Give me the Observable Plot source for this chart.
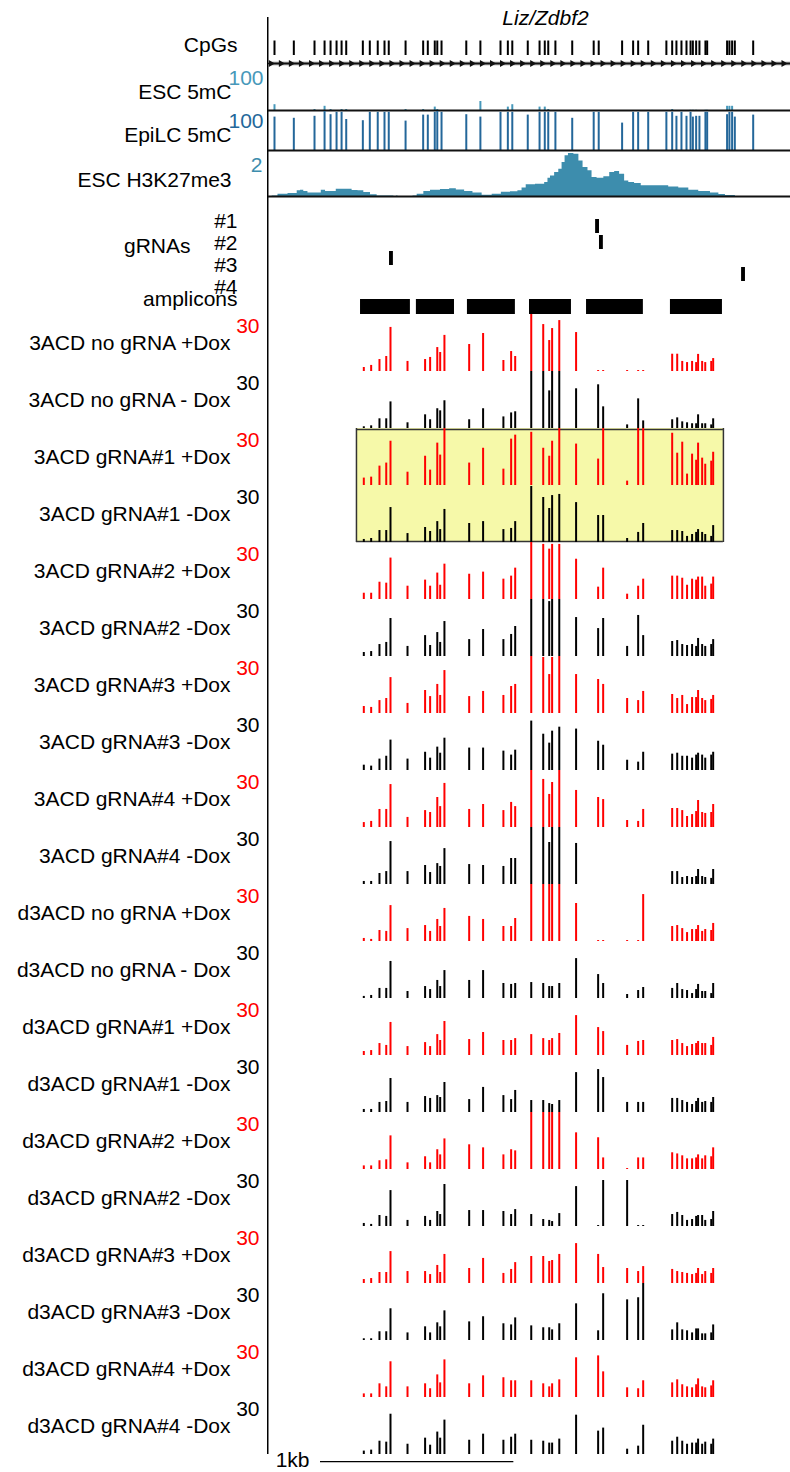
<!DOCTYPE html>
<html><head><meta charset="utf-8">
<script src="https://cdn.jsdelivr.net/npm/d3@7"></script>
<script src="https://cdn.jsdelivr.net/npm/@observablehq/plot@0.6"></script>
<style>
body{margin:0;background:#fff;}
#chart{width:790px;line-height:0;}
#chart svg{display:block;}
</style></head><body><div id="chart"></div>
<script>
// ---------------- data ----------------
const geneName = "Liz/Zdbf2";
// CpG positions (bp from left edge of the window)
const cpgSites = [31,131,238,290,321,352,378,402,488,524,565,600,622,709,800,824,860,873,895,1023,1096,1200,1238,1261,1341,1402,1429,1447,1484,1571,1682,1708,1829,1886,1912,1964,2058,2088,2110,2136,2162,2183,2195,2212,2229,2260,2269,2372,2384,2398,2412,2507];
const esc5mC = [17,0,5,13,5,0,5,5,0,0,0,0,0,5,5,0,11,5,0,0,25,0,11,17,0,11,11,5,0,0,0,0,0,0,0,0,0,5,0,0,0,3,3,3,0,3,3,13,13,13,0,0];
const epilc5mC = [86,83,88,100,92,98,98,80,77,98,98,98,98,76,91,91,98,100,98,92,86,98,98,98,91,98,98,98,98,83,98,98,71,98,98,98,98,98,88,98,88,98,86,88,88,98,98,92,98,98,86,91];
// ESC H3K27me3 profile
const h3k27Pos = [2,36,62,140,157,174,191,217,260,286,304,329,372,415,450,476,510,545,579,640,657,666,674,743,752,786,821,855,924,950,993,1036,1079,1131,1183,1226,1277,1303,1320,1346,1416,1441,1450,1467,1493,1510,1527,1541,1562,1597,1614,1640,1665,1682,1717,1752,1778,1803,1829,1855,1872,1915,1941,2044,2096,2148,2200,2251,2321,2338,2389,2441,2528];
const h3k27Val = [0,0.07,0.14,0.17,0.29,0.32,0.26,0.2,0.2,0.32,0.26,0.26,0.36,0.36,0.3,0.29,0.22,0.12,0.07,0.07,0.01,0.07,0,0,0.06,0.14,0.26,0.32,0.35,0.38,0.33,0.26,0.2,0.1,0.14,0.23,0.25,0.29,0.41,0.55,0.58,0.65,0.84,0.94,1.09,1.23,1.52,1.81,1.91,1.88,1.59,1.3,1.16,0.87,0.84,0.9,1.09,1.13,1.01,0.72,0.65,0.61,0.51,0.51,0.46,0.41,0.32,0.26,0.2,0.13,0.09,0.03,0];
// gRNAs
const gRNAs = ["#1","#2","#3","#4"];
const gRNAPos = [1702,1722,636,2457];
// amplicons
const ampliconStart = [476,765,1029,1350,1645,2079];
const ampliconEnd = [734,962,1277,1567,1939,2348];
// CpGs covered by amplicon bisulfite sequencing
const ampliconCpGs = [493,531,574,609,631,719,810,836,873,888,910,1038,1110,1215,1255,1276,1359,1421,1452,1467,1504,1591,1705,1731,1855,1912,1938,2088,2114,2140,2165,2191,2212,2222,2243,2259,2290,2300];
const samples = ["3ACD no gRNA +Dox","3ACD no gRNA - Dox","3ACD gRNA#1 +Dox","3ACD gRNA#1 -Dox","3ACD gRNA#2 +Dox","3ACD gRNA#2 -Dox","3ACD gRNA#3 +Dox","3ACD gRNA#3 -Dox","3ACD gRNA#4 +Dox","3ACD gRNA#4 -Dox","d3ACD no gRNA +Dox","d3ACD no gRNA - Dox","d3ACD gRNA#1 +Dox","d3ACD gRNA#1 -Dox","d3ACD gRNA#2 +Dox","d3ACD gRNA#2 -Dox","d3ACD gRNA#3 +Dox","d3ACD gRNA#3 -Dox","d3ACD gRNA#4 +Dox","d3ACD gRNA#4 -Dox"];
const treatment = ["+Dox","-Dox","+Dox","-Dox","+Dox","-Dox","+Dox","-Dox","+Dox","-Dox","+Dox","-Dox","+Dox","-Dox","+Dox","-Dox","+Dox","-Dox","+Dox","-Dox"];
const trackMax = 30;
// % methylation per CpG (rows = samples, columns = ampliconCpGs); null = no data
const methylation = [
 [2.1,3.2,6.3,7.9,23.2,5.3,6.3,7.4,12.6,10,19,14.2,20,5.8,10.5,7.9,30,24.7,16.3,22.6,26.8,20.5,0.5,0.5,0.5,0.5,0.5,9.1,9.1,5.3,4.7,5.3,4.7,9,5.3,4.7,5.3,6.8],
 [0.9,1.4,5.1,5.1,14,3,7.2,4.6,10.4,9.3,14.6,4.6,10.4,6.1,8.2,8.8,30,30,19.8,30,30,20.9,23,11.4,1.9,15.6,4,4.6,5.6,3.5,3,2.5,2.5,7.2,2.5,2.5,1.9,5.1],
 [3.9,4.4,10.2,11.8,23.3,7,15.4,8.1,22.3,16,30,11.8,19.6,8.6,24.4,26.5,28,19.6,15.4,23.3,30,21.8,13.9,30,2.3,30,30,27.5,17,22.8,6,16.5,13.3,22.3,14.4,11.2,12.8,17.5],
 [1.6,2.1,6.3,6.3,18.4,4.7,7.9,5.8,11,6.8,17.4,10,11,6.8,7.4,11,29.5,23.7,17.9,24.7,25.3,21,14.2,14.2,2.1,5.3,10,6.3,6.3,5.8,3.2,4.2,5.3,6.8,5.3,4.2,3.2,8.9],
 [3.3,3.3,9.1,8.6,21.8,7,10.2,7,13.9,7.5,18.6,13.3,14.4,10.7,12.3,16.5,30,29,26.5,29,29,21.2,6.5,16.5,2.8,7,10.7,12.3,12.3,11.2,7.5,10.7,10.2,11.8,11.8,7,8.1,11.8],
 [2.1,2.6,6.3,7.4,20,5.3,11,5.8,12.6,7.4,18.4,8.9,14.2,8.9,11.6,15.8,30,30,28.9,30,30,20.5,14.7,20,5.3,21.6,11,7.9,8.4,6.3,5.8,6.3,5.3,9.5,6.3,5.3,6.3,8.9],
 [3.7,3.2,6.8,7.9,18.9,5.3,12.1,8.9,15.3,9.5,22.6,8.9,11.6,9.5,14.2,15.3,30,29.5,20.5,29.5,30,20.5,17.9,15.3,7.9,6.8,11.6,10,7.9,9.5,4.7,8.4,8.4,12.1,7.9,6.8,7.4,9.5],
 [2.8,2.3,6,7.5,16,6,9.6,6.5,12.3,9.1,17,11.8,11.8,10.2,8.1,10.7,26,19.1,14.4,20.7,22.8,21.8,15.4,13.3,5.4,4.4,9.6,8.6,9.1,7.5,7.5,6.5,8.1,9.1,8.1,6.5,8.1,9.6],
 [2.6,3.2,9.5,9.5,22.6,5.3,8.9,7.9,15.8,11,23.2,9.5,12.1,8.9,13.2,11,30,25.3,17.4,23.7,30,19.5,15.8,14.7,3.7,3.2,9.5,10,10,8.9,5.8,6.8,8.4,14.2,7.9,7.4,7.9,12.1],
 [1.6,1.6,5.8,6.8,22.6,6.8,10,6.3,11,9.5,18.9,10.5,10,9.5,13.7,13.7,30,30,22.1,30,30,21.6,null,null,null,null,null,6.8,6.8,3.7,4.2,3.7,4.2,7.9,4.2,3.7,3.2,7.9],
 [1.6,1.1,5.8,5.3,18.9,6.8,8.4,5.3,11.6,7.9,17.4,13.2,11.6,7.9,7.9,12.1,30,30,30,30,30,20,0.5,0.5,0.5,0.5,24.7,7.9,8.4,6.8,4.7,6.3,6.3,8.4,5.3,6.3,5.8,9.5],
 [1.1,1.6,5.3,5.3,19.5,3.7,6.3,4.7,9.5,6.3,14.7,9.5,14.7,7.9,7.4,7.9,8.4,7.9,6.3,6.3,7.9,21,12.6,7.9,2.1,4.2,5.8,5.3,7.9,4.7,4.2,2.6,4.7,7.4,3.7,3.7,2.6,7.9],
 [2.1,2.6,6.3,5.3,17.4,4.7,6.8,4.7,11,7.9,17.9,8.4,12.1,7.9,7.9,8.9,11,8.9,7.9,8.9,11.6,21,14.7,12.6,5.3,7.4,7.9,7.9,8.4,6.3,4.7,5.8,6.3,7.4,6.3,6.3,5.3,9.5],
 [1.6,1.6,5.3,5.8,17.9,5.3,8.4,7.4,8.9,7.9,15.8,6.8,13.2,8.9,6.8,11.6,6.3,6.3,4.7,4.2,6.3,21,22.6,18.4,5.3,5.3,5.3,7.4,7.4,6.3,5.3,4.2,5.8,7.4,5.3,5.8,5.3,7.9],
 [1.9,1.9,4.6,5.1,17.7,3.5,6.7,3.5,10.4,7.7,16.1,13,11.4,7.7,10.4,9.8,30,30,30,30,30,19.3,16.7,6.1,0.5,6.1,6.1,8.8,8.2,7.2,5.6,5.6,6.1,7.7,5.6,7.2,6.7,11.4],
 [1.6,1.1,5.8,5.3,18.9,3.2,5.3,3.2,7.9,6.3,22.1,8.4,8.4,7.9,6.3,8.9,6.3,3.7,3.2,2.6,6.8,21,0.5,24.2,24.2,0.5,0.5,6.3,7.4,5.8,3.2,3.7,5.3,5.8,5.8,3.2,3.7,7.9],
 [2.1,2.6,5.8,5.8,16.8,6.3,6.3,4.7,9.5,5.8,15.3,7.9,13.2,5.3,7.4,11,14.2,14.2,11.6,12.1,15.3,21,15.3,8.4,7.9,6.3,8.9,7.4,6.3,5.8,5.3,4.7,5.3,7.9,4.7,6.3,5.3,7.9],
 [0.9,0.9,4.6,4.6,16.7,4,7.2,4,9.3,7.2,15.6,9.8,12.5,8.8,8.2,11.9,7.7,6.7,6.7,5.6,8.8,19.3,5.1,24.6,21.4,22.5,30,5.6,9.3,5.6,5.1,4,6.1,6.1,3.5,3.5,4,8.2],
 [1.9,1.9,7.2,5.6,18.8,5.6,7.2,4.6,11.9,7.7,19.8,7.2,11.4,10.4,8.8,8.8,8.8,7.2,5.6,7.2,9.3,20.9,21.9,13.5,5.1,4.6,8.8,7.7,9.3,6.7,5.6,5.1,6.7,9.8,5.6,5.1,6.1,8.8],
 [1.8,2.3,7,6.5,21.2,5.4,8.6,4.9,11.8,8.6,18.1,7.5,10.7,7.5,9.1,10.7,7.5,7,6,6,8.1,20.7,12.3,13.9,2.8,4.4,15.4,7,9.1,7,5.4,6,6,8.1,5.4,6.5,5.4,8.1]
];
const highlighted = ["3ACD gRNA#1 +Dox","3ACD gRNA#1 -Dox"];
const highlightStart = 455, highlightEnd = 2353;
const scaleBarStart = 269, scaleBarLength = 1000, scaleBarLabel = "1kb";

// ---------------- drawing ----------------
const W = 790, ML = 268;
const FONT = "'Liberation Sans', Arial, Helvetica, sans-serif";
const FS = 21;
const XS = {domain: [0, 2700], axis: null};
const ESC_COLOR = "#4798ba", EPI_COLOR = "#24679a", K27_COLOR = "#3d8dad";
const chart = document.getElementById("chart");
const add = (p) => chart.appendChild(p);
function track(height, marginTop, y, marks) {
  return Plot.plot({
    width: W, height, marginLeft: ML, marginRight: 0, marginTop, marginBottom: 0,
    x: XS, y,
    style: {fontFamily: FONT, fontSize: FS + "px", background: "white", color: "black", overflow: "visible"},
    marks
  });
}
const leftLine = (extendTop = 0) => Plot.ruleX([0], {stroke: "black", strokeWidth: 1.5, dx: -0.75, insetTop: -extendTop});
const label = (t, dx, dy) => Plot.text([t], {frameAnchor: "left", textAnchor: "end", lineAnchor: "middle", dx, dy, fontSize: FS, fill: "black"});
const topNum = (v, pad, dy, color) => Plot.axisY([v], {anchor: "left", tickSize: 0, tickPadding: pad, dy, label: null, color, fontSize: FS});

const cpg = cpgSites.map((pos, i) => ({pos, esc: esc5mC[i], epi: epilc5mC[i]}));
const k27 = h3k27Pos.map((pos, i) => ({pos, val: h3k27Val[i]}));
const gRNAData = gRNAs.map((name, i) => ({name, pos: gRNAPos[i]}));
const ampliconData = ampliconStart.map((s, i) => ({start: s, end: ampliconEnd[i]}));
const strandArrows = d3.range(12, 2700, 52); // decorative strand chevrons on the gene line

// CpG + gene track
add(track(67, 17, {domain: [0, 1], axis: null}, [
  leftLine(),
  Plot.ruleY([0.08], {stroke: "#888", strokeWidth: 3.5}),
  Plot.ruleY([0.08], {stroke: "#111", strokeWidth: 1.3}),
  Plot.dot(strandArrows, {x: d => d, y: 0.08, symbol: "triangle", rotate: 90, r: 2.6, fill: "#111", stroke: "none"}),
  Plot.ruleX(cpg, {x: "pos", y1: 0.24, y2: 0.53, stroke: "black", strokeWidth: 2}),
  Plot.text([geneName], {frameAnchor: "top", lineAnchor: "middle", dx: 16, dy: 1, fontStyle: "italic", fontSize: FS}),
  label("CpGs", -31, 3)
]));

// ESC 5mC
add(track(44, 4, {domain: [0, 100]}, [
  leftLine(4),
  Plot.ruleX(cpg.filter(d => d.esc > 0), {x: "pos", y1: 0, y2: "esc", stroke: ESC_COLOR, strokeWidth: 2}),
  Plot.ruleY([0], {stroke: "#111", strokeWidth: 2, dy: -1}),
  topNum(100, 5, 7, ESC_COLOR),
  label("ESC 5mC", -37, 1)
]));

// EpiLC 5mC
add(track(40, 0, {domain: [0, 100]}, [
  leftLine(),
  Plot.ruleX(cpg, {x: "pos", y1: 0, y2: "epi", stroke: EPI_COLOR, strokeWidth: 2}),
  Plot.ruleY([0], {stroke: "#111", strokeWidth: 2, dy: -1}),
  topNum(100, 5, 10, EPI_COLOR),
  label("EpiLC 5mC", -37, 4)
]));

// ESC H3K27me3
add(track(46, 0, {domain: [0, 2]}, [
  leftLine(),
  Plot.areaY(k27, {x: "pos", y: "val", fill: K27_COLOR, curve: "step"}),
  Plot.ruleY([0], {stroke: "#111", strokeWidth: 2, dy: -1}),
  topNum(2, 6, 14, K27_COLOR),
  label("ESC H3K27me3", -37, 6)
]));

// gRNAs + amplicons
add(track(117, 21, {type: "band", domain: [...gRNAs, " ", "amplicons"], padding: 0, axis: null}, [
  leftLine(21),
  Plot.barX(gRNAData, {x1: d => d.pos - 10, x2: d => d.pos + 10, y: "name", fill: "black", insetTop: 1, insetBottom: 1}),
  Plot.barX(ampliconData, {x1: "start", x2: "end", y: () => "amplicons", fill: "black", insetTop: 1, insetBottom: 0}),
  label("gRNAs", -78, -20),
  ...gRNAs.map((g, i) => Plot.text([g], {frameAnchor: "top-left", textAnchor: "end", lineAnchor: "middle", dx: -31, dy: 3 + 22 * i, fontSize: FS})),
  Plot.text(["amplicons"], {frameAnchor: "top-left", textAnchor: "end", lineAnchor: "middle", dx: -31, dy: 81, fontSize: FS})
]));

// sample tracks
samples.forEach((name, i) => {
  const color = treatment[i] === "+Dox" ? "#ff0000" : "#000000";
  const bars = ampliconCpGs.map((pos, j) => ({pos, v: methylation[i][j]})).filter(d => d.v != null);
  const h = highlighted.indexOf(name);
  const marks = [];
  if (h >= 0) {
    marks.push(Plot.rect([0], {x1: highlightStart, x2: highlightEnd, fill: "#f6f9a9"}));
    marks.push(Plot.ruleX([highlightStart, highlightEnd], {stroke: "#333", strokeWidth: 1.5}));
    if (h === 0) marks.push(Plot.ruleY([trackMax], {x1: highlightStart, x2: highlightEnd, stroke: "#333", strokeWidth: 1.5, dy: 1}));
    if (h === highlighted.length - 1) marks.push(Plot.ruleY([0], {x1: highlightStart, x2: highlightEnd, stroke: "#333", strokeWidth: 1.5, dy: -1}));
  }
  marks.push(
    leftLine(),
    Plot.ruleX(bars, {x: "pos", y1: 0, y2: "v", stroke: color, strokeWidth: 2}),
    topNum(trackMax, 9, 12, color),
    label(name, -38, 0)
  );
  add(track(57, 0, {domain: [0, trackMax], clamp: true}, marks));
});

// scale bar
add(track(18, 0, {domain: [0, 1], axis: null}, [
  Plot.ruleY([0.6], {x1: scaleBarStart, x2: scaleBarStart + scaleBarLength, stroke: "black", strokeWidth: 1.2}),
  Plot.text([scaleBarLabel], {x: scaleBarStart, y: 0.6, textAnchor: "end", lineAnchor: "middle", dx: -11, dy: -1, fontSize: FS})
]));
</script>
</body></html>
